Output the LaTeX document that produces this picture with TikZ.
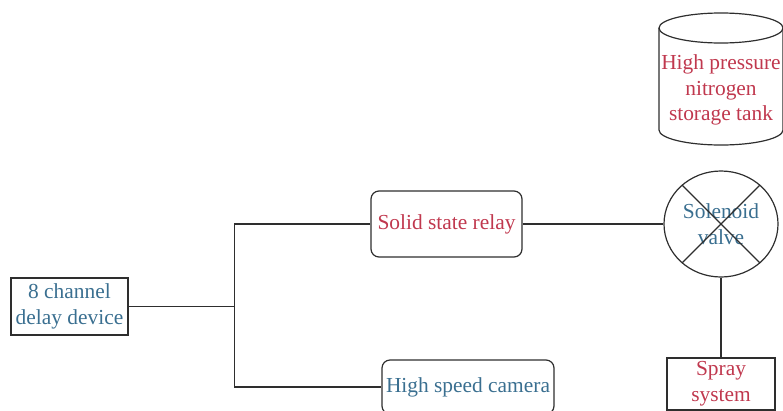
\documentclass[tikz,border=0pt]{standalone}
\usepackage{fontspec}
\setmainfont{Liberation Serif}
\usetikzlibrary{shapes.geometric}
\definecolor{tblue}{HTML}{3A6F90}
\definecolor{tred}{HTML}{C0384E}
\definecolor{lgray}{HTML}{2E2E2E}
\tikzset{
  txt/.style={font=\fontsize{21.4}{25.8}\selectfont, align=center, inner sep=0pt},
  box/.style={draw=lgray, line width=1.2pt, rectangle, inner sep=0pt},
  rbox/.style={box, rounded corners=8pt},
  conn/.style={draw=lgray, line width=1.2pt}
}
\begin{document}
\begin{tikzpicture}[x=1pt,y=-1pt]
\useasboundingbox (0,0) rectangle (783,410);
% delay device
\node[box, txt, text=tblue, minimum width=117pt, minimum height=57pt] (delay) at (69.5,306.5) {8 channel\\delay device};
% solid state relay
\node[rbox, txt, text=tred, minimum width=151pt, minimum height=66pt] (ssr) at (446.5,224) {Solid state relay};
% high speed camera
\node[rbox, txt, text=tblue, minimum width=172pt, minimum height=54pt] (cam) at (468,387) {High speed camera};
% solenoid valve
\node[draw=lgray, line width=1.2pt, ellipse, txt, text=tblue, minimum width=114pt, minimum height=106pt] (valve) at (721,224) {Solenoid\\valve};
\draw[conn] (valve.45) -- (valve.225);
\draw[conn] (valve.135) -- (valve.315);
% spray system
\node[box, txt, text=tred, minimum width=108pt, minimum height=52pt] (spray) at (721,384) {Spray\\system};
% tank
\draw[conn] (659,28) -- (659,130) arc[start angle=180, end angle=0, x radius=62, y radius=15] -- (783,28);
\draw[conn] (721,28) ellipse[x radius=62, y radius=15];
\node[txt, text=tred] (tank) at (721,90) {High pressure\\nitrogen\\storage tank};
% connectors
\draw[conn] (delay.east) -- ++(106,0) coordinate (j);
\draw[conn] (ssr.west) -| (j) |- (cam.west);
\draw[conn] (ssr.east) -- (valve.west);
\draw[conn] (valve.south) -- (spray.north);
\end{tikzpicture}
\end{document}
